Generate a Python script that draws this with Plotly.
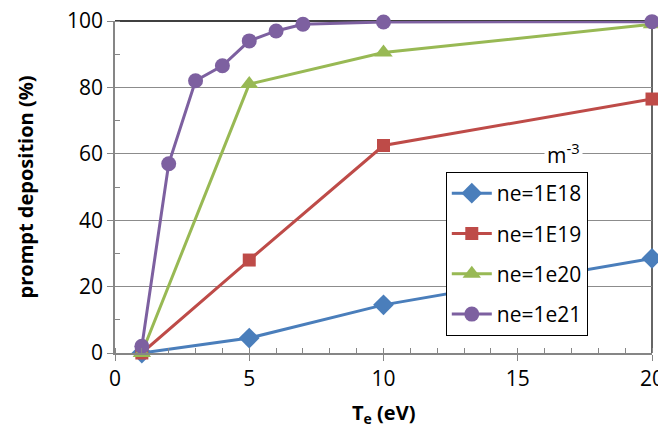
import plotly.graph_objects as go

te_1e18 = [1, 5, 10, 20]
pd_1e18 = [0, 4.5, 14.5, 28.5]
te_1e19 = [1, 5, 10, 20]
pd_1e19 = [0, 28, 62.5, 76.5]
te_1e20 = [1, 5, 10, 20]
pd_1e20 = [0, 81, 90.5, 99]
te_1e21 = [1, 2, 3, 4, 5, 6, 7, 10, 20]
pd_1e21 = [2, 57, 82, 86.5, 94, 97, 99, 99.7, 99.8]
names = ["ne=1E18", "ne=1E19", "ne=1e20", "ne=1e21"]

FONT = "Open Sans"
fig = go.Figure()
series = [
    (te_1e18, pd_1e18, names[0], "#4A7EBB", "diamond", 16),
    (te_1e19, pd_1e19, names[1], "#BE4B48", "square", 13),
    (te_1e20, pd_1e20, names[2], "#98B954", "triangle-up", 16),
    (te_1e21, pd_1e21, names[3], "#7D60A0", "circle", 15),
]
for i, (x, y, n, c, s, ms) in enumerate(series):
    fig.add_trace(go.Scatter(
        x=x, y=y, name=n, mode="lines+markers",
        line=dict(color=c, width=3),
        marker=dict(color=c, symbol=s, size=ms),
        cliponaxis=False, legendgroup=str(i),
    ))

# page body has an 8px margin, so the figure is made smaller to fit the window
fig.update_layout(
    width=658, height=418,
    margin=dict(l=107, r=14, t=13, b=73),
    paper_bgcolor="white", plot_bgcolor="white",
    font=dict(family=FONT, size=21, color="black"),
    showlegend=True,
    legend=dict(x=0.616, y=0.545, xanchor="left", yanchor="top",
                bordercolor="black", borderwidth=1, bgcolor="white",
                font=dict(size=21), tracegroupgap=10, itemwidth=40),
    xaxis=dict(range=[0, 20], tickvals=[0, 5, 10, 15, 20],
               ticks="outside", ticklen=6, tickcolor="#868686",
               showline=True, linecolor="#868686", linewidth=1.5,
               showgrid=False, zeroline=False, automargin=False,
               ticklabeloverflow="allow",
               minor=dict(ticks="inside", dtick=1, ticklen=5, tickcolor="#868686")),
    yaxis=dict(range=[0, 100], tickvals=[0, 20, 40, 60, 80, 100],
               ticks="outside", ticklen=6, tickcolor="#868686",
               showline=True, linecolor="#868686", linewidth=1.5,
               showgrid=True, gridcolor="#8C8C8C", gridwidth=1.3, zeroline=False,
               automargin=False, ticklabeloverflow="allow",
               minor=dict(ticks="inside", dtick=10, ticklen=5, tickcolor="#868686", showgrid=False),
               title=dict(text="<b>prompt deposition (%)</b>", font=dict(size=20), standoff=28)),
)
fig.add_annotation(x=0.5, y=0, xref="paper", yref="paper", yanchor="middle",
                   yshift=-60, text="<b>T<sub>e</sub> (eV)</b>", showarrow=False,
                   font=dict(size=20))
fig.add_shape(type="line", xref="x domain", yref="y domain", x0=0, x1=1, y0=1, y1=1,
              line=dict(color="black", width=1.5), layer="below")
fig.add_shape(type="line", xref="x domain", yref="y domain", x0=1, x1=1, y0=0, y1=1,
              line=dict(color="#333333", width=1.5), layer="below")
fig.add_annotation(x=0.872, y=0.6, xref="x domain", yref="y domain",
                   text="m<sup>-3</sup>", showarrow=False, bgcolor="white",
                   font=dict(size=21), borderpad=2)
fig.write_html("out.html")
